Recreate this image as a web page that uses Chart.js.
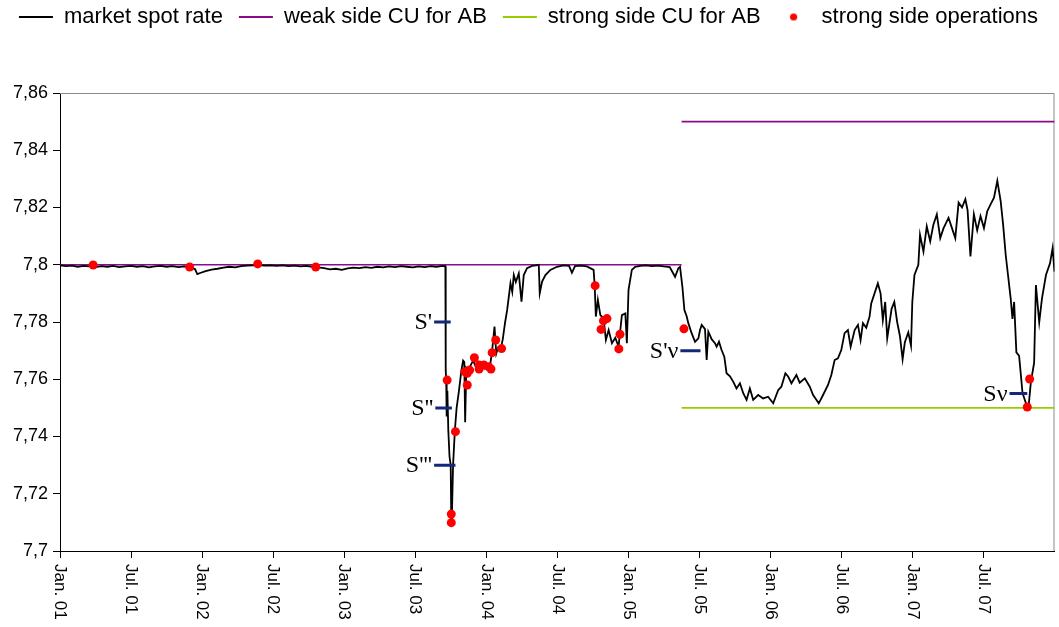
<!DOCTYPE html>
<html>
<head>
<meta charset="utf-8">
<script src="https://cdn.jsdelivr.net/npm/chart.js@4"></script>
<style>
  html, body { margin: 0; padding: 0; background: #fff; }
  #wrap { width: 1059px; height: 627px; }
</style>
</head>
<body>
<div id="wrap"><canvas id="rateChart"></canvas></div>
<script>
// x values are months counted from Jan 2001 (0) up to Jan 2008 (84)
var spotRate = [
  [0,7.7998],[0.5,7.7995],[1,7.7997],[1.5,7.7993],[2,7.7996],[2.5,7.7994],[3,7.7992],[3.5,7.7995],
  [4,7.7993],[4.5,7.7996],[5,7.7992],[5.5,7.7994],[6,7.7996],[6.5,7.7993],[7,7.7995],[7.5,7.7991],
  [8,7.7994],[8.5,7.7996],[9,7.7993],[9.5,7.7995],[10,7.7992],[10.5,7.7994],[11,7.7990],[11.4,7.7985],
  [11.6,7.7967],[11.9,7.7972],[12.3,7.7978],[12.8,7.7983],[13.3,7.7986],[13.8,7.7990],[14.3,7.7993],
  [14.8,7.7991],[15.3,7.7995],[15.8,7.7997],[16.3,7.7998],[16.8,7.7999],[17.3,7.7997],[17.8,7.7998],
  [18.3,7.7996],[18.8,7.7998],[19.3,7.7995],[19.8,7.7997],[20.3,7.7994],[20.8,7.7996],[21.3,7.7993],
  [21.8,7.7991],[22.3,7.7988],[22.8,7.7984],[23.3,7.7986],[23.8,7.7982],[24.3,7.7987],[24.8,7.7990],
  [25.3,7.7988],[25.8,7.7992],[26.3,7.7989],[26.8,7.7993],[27.3,7.7991],[27.8,7.7994],[28.3,7.7992],
  [28.8,7.7995],[29.3,7.7993],[29.8,7.7991],[30.3,7.7994],[30.8,7.7992],[31.3,7.7995],[31.8,7.7993],
  [32.3,7.7996],[32.55,7.7995],
  [32.58,7.7630],[32.62,7.7600],[32.66,7.7470],[32.72,7.7560],[32.8,7.7420],[32.9,7.7330],[33.0,7.7300],
  [33.05,7.7098],[33.1,7.7120],[33.2,7.7300],[33.35,7.7420],[33.5,7.7500],[33.7,7.7560],[33.9,7.7630],
  [34.05,7.7665],[34.15,7.7660],[34.22,7.7450],[34.32,7.7640],[34.5,7.7630],[34.7,7.7650],[34.9,7.7665],
  [35.1,7.7645],[35.3,7.7660],[35.5,7.7642],[35.7,7.7655],[35.9,7.7638],[36.1,7.7650],[36.3,7.7640],
  [36.5,7.7700],[36.7,7.7784],[36.85,7.7690],[37.0,7.7710],[37.2,7.7700],[37.4,7.7740],[37.6,7.7800],
  [37.77,7.7842],[38.05,7.7935],[38.2,7.7905],[38.33,7.7964],[38.5,7.7940],[38.75,7.7970],[38.98,7.7871],
  [39.17,7.7964],[39.45,7.7988],[39.87,7.7996],[40.2,7.7998],[40.44,7.8000],[40.52,7.7900],[40.72,7.7941],
  [41.0,7.7964],[41.42,7.7982],[41.98,7.7993],[42.5,7.7998],[43.0,7.7996],[43.24,7.7972],[43.5,7.7995],
  [44.0,7.7997],[44.5,7.7994],[45.07,7.7982],[45.16,7.7929],[45.26,7.7819],[45.43,7.7877],[45.64,7.7824],
  [45.91,7.7813],[46.11,7.7737],[46.34,7.7772],[46.62,7.7726],[46.9,7.7745],[47.18,7.7714],[47.46,7.7824],
  [47.75,7.7830],[47.88,7.7726],[48.02,7.7912],[48.30,7.7982],[48.58,7.7993],[49.0,7.7996],[49.5,7.7998],
  [50.0,7.7995],[50.5,7.7997],[51.0,7.7994],[51.5,7.7992],[51.95,7.7958],[52.23,7.7988],[52.37,7.7993],
  [52.57,7.7923],[52.74,7.7842],[52.93,7.7820],[53.07,7.7796],[53.35,7.7761],[53.64,7.7731],[53.92,7.7743],
  [54.06,7.7772],[54.2,7.7790],[54.48,7.7775],[54.62,7.7667],[54.76,7.7766],[55.04,7.7740],[55.32,7.7726],
  [55.46,7.7714],[55.66,7.7731],[55.88,7.7702],[56.11,7.7679],[56.3,7.7621],[56.59,7.7610],[56.87,7.7591],
  [57.14,7.7568],[57.43,7.7586],[57.71,7.7551],[57.99,7.7528],[58.27,7.7568],[58.55,7.7528],[58.97,7.7545],
  [59.39,7.7533],[59.81,7.7539],[60.24,7.7516],[60.66,7.7562],[60.93,7.7574],[61.27,7.7621],[61.5,7.7610],
  [61.78,7.7586],[62.2,7.7615],[62.48,7.7588],[62.91,7.7603],[63.33,7.7574],[63.61,7.7545],[64.09,7.7516],
  [64.45,7.7545],[64.87,7.7580],[65.15,7.7615],[65.43,7.7667],[65.71,7.7673],[65.99,7.7702],[66.27,7.7761],
  [66.55,7.7772],[66.78,7.7714],[67.12,7.7772],[67.4,7.7790],[67.62,7.7737],[67.82,7.7796],[68.1,7.7780],
  [68.38,7.7819],[68.52,7.7865],[68.8,7.7900],[69.08,7.7935],[69.31,7.7900],[69.5,7.7807],[69.7,7.7870],
  [69.87,7.7743],[70.24,7.7846],[70.47,7.7870],[70.71,7.7800],[70.94,7.7752],[71.17,7.7670],[71.36,7.7729],
  [71.65,7.7764],[71.88,7.7717],[71.99,7.7870],[72.17,7.7964],[72.5,7.8000],[72.64,7.8105],[72.93,7.8046],
  [73.21,7.8134],[73.5,7.8082],[73.77,7.8140],[74.06,7.8176],[74.35,7.8093],[74.63,7.8128],[75.05,7.8164],
  [75.34,7.8128],[75.62,7.8093],[75.9,7.8217],[76.19,7.8200],[76.47,7.8229],[76.66,7.8190],[76.9,7.8029],
  [77.19,7.8176],[77.47,7.8120],[77.75,7.8170],[78.04,7.8128],[78.32,7.8187],[78.6,7.8211],[78.89,7.8234],
  [79.17,7.8293],[79.45,7.8223],[79.66,7.8140],[79.88,7.8034],[80.3,7.7882],[80.45,7.7811],[80.59,7.7870],
  [80.78,7.7694],[81.01,7.7682],[81.3,7.7552],[81.58,7.7517],[81.8,7.7500],[82.0,7.7588],[82.28,7.7658],
  [82.43,7.7929],[82.71,7.7799],[82.94,7.7882],[83.28,7.7964],[83.62,7.8005],[83.84,7.8058],[84.0,7.7976]
];

var operations = [
  [2.8,7.7999],[10.95,7.7992],[16.7,7.8003],[21.6,7.7992],
  [32.7,7.7597],[33.05,7.7129],[33.05,7.7099],[33.4,7.7417],
  [34.2,7.7626],[34.4,7.7621],[34.4,7.7580],[34.6,7.7632],[35.0,7.7675],[35.4,7.7650],[35.4,7.7636],
  [35.8,7.7650],[36.2,7.7644],[36.4,7.7636],[36.5,7.7693],[36.8,7.7737],[37.3,7.7707],
  [45.2,7.7927],[45.7,7.7774],[45.9,7.7804],[46.2,7.7812],[47.2,7.7706],[47.3,7.7757],
  [52.7,7.7776],
  [81.7,7.7503],[81.9,7.7601]
];

var weakSide = [[0,7.80],[52.5,7.80],[52.5,null],[52.5,7.85],[84,7.85]];
var strongSide = [[52.5,7.75],[84,7.75]];

// S markers: label, level, start and end month of the dash
var markLabels = ["S'", "S''", "S'''", "S'\u03bd", "S\u03bd"];
var markLevels = [7.78, 7.75, 7.73, 7.77, 7.755];
var markFrom = [31.6, 31.7, 31.6, 52.4, 80.2];
var markTo = [33.0, 33.1, 33.4, 54.1, 81.7];

var tickMonths = [0, 6, 12, 18, 24, 30, 36, 42, 48, 54, 60, 66, 72, 78];
var tickLabels = ['Jan. 01', 'Jul. 01', 'Jan. 02', 'Jul. 02', 'Jan. 03', 'Jul. 03', 'Jan. 04',
                  'Jul. 04', 'Jan. 05', 'Jul. 05', 'Jan. 06', 'Jul. 06', 'Jan. 07', 'Jul. 07'];

function toPoints(list) {
  return list.map(function (p) { return { x: p[0], y: p[1] }; });
}

var markPoints = [];
for (var i = 0; i < markLabels.length; i++) {
  markPoints.push({ x: markFrom[i], y: markLevels[i] });
  markPoints.push({ x: markTo[i], y: markLevels[i] });
  markPoints.push({ x: markTo[i], y: null });
}

// small red dot for the legend
var dotImg = document.createElement('canvas');
dotImg.width = 9; dotImg.height = 9;
var dctx = dotImg.getContext('2d');
dctx.fillStyle = '#ff0000';
dctx.beginPath(); dctx.arc(4.5, 4.5, 3.6, 0, Math.PI * 2); dctx.fill();

var legendSpace = {
  id: 'legendSpace',
  beforeInit: function (chart) {
    var fit = chart.legend.fit;
    chart.legend.fit = function () { fit.call(this); this.height = 103; };
  }
};

var frame = {
  id: 'frame',
  beforeDatasetsDraw: function (chart) {
    var a = chart.chartArea, c = chart.ctx;
    c.save();
    c.strokeStyle = '#8a8a8a';
    c.lineWidth = 1;
    c.beginPath();
    c.moveTo(a.left, a.top + 0.5);
    c.lineTo(a.right - 0.5, a.top + 0.5);
    c.lineTo(a.right - 0.5, a.bottom);
    c.stroke();
    c.restore();
  }
};

var xLabels = {
  id: 'xLabels',
  afterDraw: function (chart) {
    var sx = chart.scales.x, c = chart.ctx;
    c.save();
    c.fillStyle = '#000';
    c.font = '17px "Liberation Sans", Arial, sans-serif';
    c.textAlign = 'left';
    c.textBaseline = 'middle';
    tickMonths.forEach(function (m, k) {
      var px = sx.getPixelForValue(m);
      c.save();
      c.translate(px, sx.top + 13);
      c.rotate(Math.PI / 2);
      c.fillText(tickLabels[k], 0, 0);
      c.restore();
    });
    c.restore();
  }
};

var markText = {
  id: 'markText',
  afterDatasetsDraw: function (chart) {
    var sx = chart.scales.x, sy = chart.scales.y, c = chart.ctx;
    c.save();
    c.fillStyle = '#000';
    c.font = '24px "Liberation Serif", "Times New Roman", serif';
    c.textAlign = 'right';
    c.textBaseline = 'middle';
    markLabels.forEach(function (t, k) {
      c.fillText(t, sx.getPixelForValue(markFrom[k]) - 2, sy.getPixelForValue(markLevels[k]) + 1);
    });
    c.restore();
  }
};

var ctx = document.getElementById('rateChart').getContext('2d');
var rateChart = new Chart(ctx, {
  type: 'line',
  data: {
    datasets: [
      { label: 'market spot rate', data: toPoints(spotRate), borderColor: '#000', borderWidth: 1.8,
        pointRadius: 0, pointStyle: 'line', order: 2 },
      { label: 'weak side CU for AB', data: toPoints(weakSide), borderColor: '#8c0a8c', borderWidth: 1.6,
        pointRadius: 0, pointStyle: 'line', spanGaps: false, order: 3 },
      { label: 'strong side CU for AB', data: toPoints(strongSide), borderColor: '#99cc00', borderWidth: 1.6,
        pointRadius: 0, pointStyle: 'line', order: 4 },
      { label: 'strong side operations', data: toPoints(operations), showLine: false,
        pointRadius: 4.5, pointBackgroundColor: '#ff0000', pointBorderWidth: 0, borderColor: '#ff0000',
        pointStyle: 'circle', order: 0 },
      { label: '', data: markPoints, borderColor: '#13287a', borderWidth: 3, pointRadius: 0,
        spanGaps: false, order: 1 }
    ]
  },
  options: {
    responsive: true,
    maintainAspectRatio: false,
    animation: false,
    layout: { padding: { top: -10, right: 2, left: 0, bottom: 0 } },
    plugins: {
      tooltip: { enabled: false },
      legend: {
        position: 'top',
        labels: {
          usePointStyle: true,
          pointStyleWidth: 34,
          padding: 16,
          color: '#000',
          font: { family: '"Liberation Sans", Arial, sans-serif', size: 22 },
          filter: function (item) { return item.text !== ''; },
          sort: function (a, b) { return a.datasetIndex - b.datasetIndex; },
          generateLabels: function (chart) {
            var items = Chart.defaults.plugins.legend.labels.generateLabels(chart);
            items.forEach(function (it) {
              if (it.datasetIndex === 3) { it.pointStyle = dotImg; }
              else { it.lineWidth = 2; }
            });
            return items;
          }
        }
      }
    },
    scales: {
      x: {
        type: 'linear',
        min: 0,
        max: 84,
        afterBuildTicks: function (s) { s.ticks = tickMonths.map(function (m) { return { value: m }; }); },
        afterFit: function (s) { s.height = 76; },
        ticks: { display: false },
        grid: { drawOnChartArea: false, tickLength: 7, color: '#000' },
        border: { color: '#000', width: 1 }
      },
      y: {
        min: 7.70,
        max: 7.86,
        afterFit: function (s) { s.width = 60; },
        ticks: {
          stepSize: 0.02,
          padding: 5,
          color: '#000',
          font: { family: '"Liberation Sans", Arial, sans-serif', size: 18 },
          callback: function (v) { return String(Math.round(v * 100) / 100).replace('.', ','); }
        },
        grid: { drawOnChartArea: false, tickLength: 7, color: '#000' },
        border: { color: '#000', width: 1 }
      }
    }
  },
  plugins: [legendSpace, frame, xLabels, markText]
});
</script>
</body>
</html>
